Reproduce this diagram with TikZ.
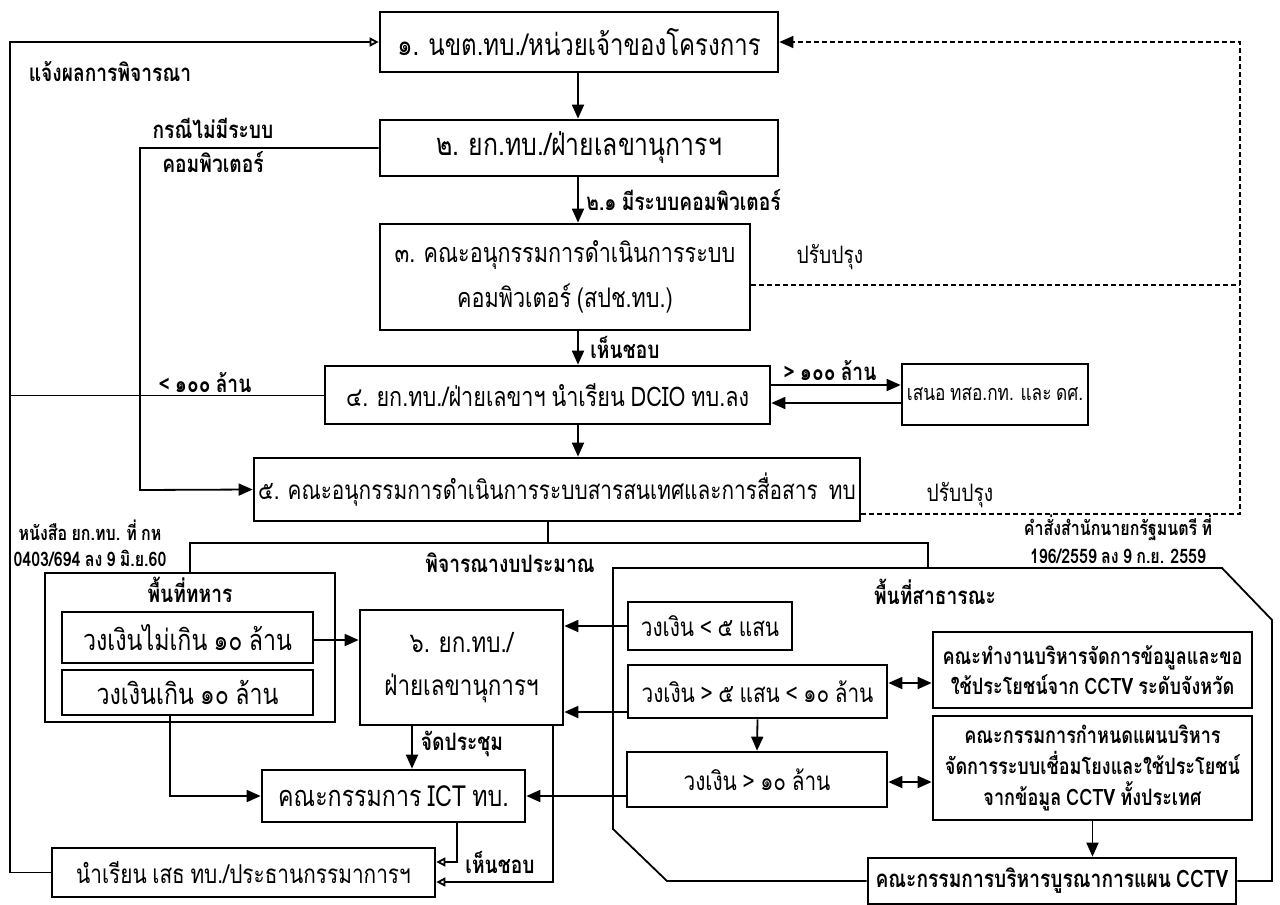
\documentclass[tikz,border=0pt]{standalone}
\usepackage{fontspec}
\setmainfont{Loma}[Script=Thai,FakeStretch=0.8,WordSpace=0.8]
\usetikzlibrary{arrows.meta}
\newcommand\mkbox[7]{\node[#1,minimum width={(#5-#3)*0.5pt},minimum height={(#6-#4)*0.5pt}] (#2) at ({(#3+#5)/2},{(#4+#6)/2}) {#7};}
\newcommand\fs[2]{\fontsize{#1}{#2}\selectfont}
\begin{document}
\begin{tikzpicture}[x=0.5pt,y=-0.5pt,
  bx/.style={draw,line width=1.35pt,inner sep=0pt,align=center},
  area/.style={draw,line width=0.9pt,inner sep=0pt},
  lbl/.style={inner sep=0pt,font=\bfseries\fs{12}{14}},
  slbl/.style={inner sep=0pt,font=\bfseries\fs{10}{12}},
  ln/.style={line width=0.9pt},
  thinln/.style={line width=0.5pt},
  arr/.style={line width=0.9pt,-{Triangle[length=7pt,width=6pt]}},
  darr/.style={line width=0.9pt,{Triangle[length=7pt,width=6pt]}-{Triangle[length=7pt,width=6pt]}},
  oarr/.style={line width=0.9pt,-{Triangle[open,length=4.5pt,width=4.5pt]}},
  dsh/.style={line width=0.8pt,dash pattern=on 2.5pt off 1.5pt}
]
\useasboundingbox (0,0) rectangle (1280,905);
% main column
\mkbox{bx,font=\fs{15}{22}}{b1}{380}{12}{778}{72}{๑. นขต.ทบ./หน่วยเจ้าของโครงการ}
\mkbox{bx,font=\fs{15.5}{22}}{b2}{380}{120}{778}{176}{๒. ยก.ทบ./ฝ่ายเลขานุการฯ}
\mkbox{bx,font=\fs{13.5}{22.5}}{b3}{380}{224}{750}{330}{๓. คณะอนุกรรมการดำเนินการระบบ\\คอมพิวเตอร์ (สปช.ทบ.)}
\mkbox{bx,font=\fs{13.5}{22}}{b4}{325}{366}{770}{424}{๔. ยก.ทบ./ฝ่ายเลขาฯ นำเรียน DCIO ทบ.ลง}
\mkbox{bx,font=\fs{10.8}{22}}{bT}{902}{364}{1088}{425}{เสนอ ทสอ.กท. และ ดศ.}
\mkbox{bx,font=\fs{13}{22}}{b5}{254}{458}{860}{521}{๕. คณะอนุกรรมการดำเนินการระบบสารสนเทศและการสื่อสาร\ \ ทบ}
% military area
\mkbox{area}{mil}{45}{573}{335}{722}{}
\node[lbl] (lmil) at (190,590) {พื้นที่ทหาร};
\mkbox{bx,font=\fs{14.5}{22}}{m1}{62}{612}{313}{663}{วงเงินไม่เกิน ๑๐ ล้าน}
\mkbox{bx,font=\fs{14.5}{22}}{m2}{62}{670}{313}{715}{วงเงินเกิน ๑๐ ล้าน}
\mkbox{bx,font=\fs{14}{21.5}}{b6}{360}{610}{563}{725}{๖. ยก.ทบ./\\ฝ่ายเลขานุการฯ}
\mkbox{bx,font=\fs{14.5}{22}}{ict}{262}{770}{525}{822}{คณะกรรมการ ICT ทบ.}
\mkbox{bx,font=\fs{13}{22}}{b8}{52}{848}{435}{897}{นำเรียน เสธ ทบ./ประธานกรรมาการฯ}
% public area
\mkbox{bx,font=\fs{13}{22}}{p1}{628}{602}{792}{650}{วงเงิน < ๕ แสน}
\mkbox{bx,font=\fs{13}{22}}{p2}{628}{665}{887}{718}{วงเงิน > ๕ แสน < ๑๐ ล้าน}
\mkbox{bx,font=\fs{13}{22}}{p3}{627}{752}{887}{807}{วงเงิน > ๑๐ ล้าน}
\mkbox{bx,font=\bfseries\fs{11.3}{15}}{c1}{933}{632}{1252}{708}{คณะทำงานบริหารจัดการข้อมูลและขอ\\ใช้ประโยชน์จาก CCTV ระดับจังหวัด}
\mkbox{bx,font=\bfseries\fs{11.3}{15.7}}{c2}{933}{716}{1252}{820}{คณะกรรมการกำหนดแผนบริหาร\\จัดการระบบเชื่อมโยงและใช้ประโยชน์\\จากข้อมูล CCTV ทั้งประเทศ}
\mkbox{bx,font=\bfseries\fs{12}{15}}{bI}{868}{858}{1236}{904}{คณะกรรมการบริหารบูรณาการแผน CCTV}
\node[lbl] (lpub) at (935,592) {พื้นที่สาธารณะ};
% labels
\node[lbl] (l1) at (110,72) {แจ้งผลการพิจารณา};
\node[lbl] (l2) at (213,128) {กรณีไม่มีระบบ};
\node[lbl] (l3) at (213,162) {คอมพิวเตอร์};
\node[lbl,anchor=west] (l4) at (586,200) {๒.๑ มีระบบคอมพิวเตอร์};
\node[lbl,font=\fs{12}{14}] (l5) at (830,257) {ปรับปรุง};
\node[lbl,anchor=west] (l6) at (590,347) {เห็นชอบ};
\node[lbl] (l7) at (205,383) {< ๑๐๐ ล้าน};
\node[lbl] (l8) at (830,371) {> ๑๐๐ ล้าน};
\node[lbl,font=\fs{12}{14}] (l9) at (960,495) {ปรับปรุง};
\node[slbl] (l10) at (90,530) {หนังสือ ยก.ทบ. ที่ กห};
\node[slbl] (l11) at (90,558) {0403/694 ลง 9 มิ.ย.60};
\node[lbl] (l12) at (510,563) {พิจารณางบประมาณ};
\node[slbl] (l13) at (1118,528) {คำสั่งสำนักนายกรัฐมนตรี ที่};
\node[slbl] (l14) at (1118,556) {196/2559 ลง 9 ก.ย. 2559};
\node[lbl] (l15) at (462,744) {จัดประชุม};
\node[lbl] (l16) at (500,862) {เห็นชอบ};
% coordinates
\coordinate (cL) at (10,42);
\coordinate (cN) at (140,490);
\coordinate (ax) at (578,0);
\coordinate (cD) at (1240,42);
\coordinate (y385) at (0,385);
\coordinate (y403) at (0,403);
\coordinate (y285) at (0,285);
\coordinate (y514) at (0,514);
\coordinate (y640) at (0,640);
\coordinate (y712) at (0,712);
\coordinate (y683) at (0,683);
\coordinate (y782) at (0,782);
\coordinate (y862) at (0,862);
\coordinate (y882) at (0,882);
\coordinate (x170) at (170,0);
\coordinate (x412) at (412,0);
\coordinate (x457) at (457,0);
\coordinate (x553) at (553,0);
\coordinate (hC) at (548,543);
\coordinate (hL) at (190,543);
\coordinate (hR) at (928,543);
\coordinate (pubtop) at (928,568);
% connectors
\draw[oarr] (b8.west) -| (cL) -- (b1.west);
\draw[thinln] (b4.west) -- (b4.west -| cL);
\draw[arr] (b2.west) -| (cN) -- (b5.west);
\draw[arr] (b1.south -| ax) -- (b2.north -| ax);
\draw[arr] (b2.south -| ax) -- (b3.north -| ax);
\draw[arr] (b3.south -| ax) -- (b4.north -| ax);
\draw[arr] (b4.south -| ax) -- (b5.north -| ax);
\draw[arr] (b4.east |- y385) -- (bT.west |- y385);
\draw[arr] (bT.west |- y403) -- (b4.east |- y403);
\draw[dsh,-{Triangle[length=7pt,width=6pt]}] (b5.east |- y514) -| (cD) -- (b1.east);
\draw[dsh] (b3.east |- y285) -- (cD |- y285);
\draw[ln] (b5.south -| hC) -- (hC);
\draw[ln] (mil.north -| hL) -- (hL) -- (hR) -- (pubtop);
\draw[area] (bI.west) -- (667,881) -- (613,829) -- (613,568) -- (1222,568) -- (1272,620) -- (1272,881) -- (bI.east);
\draw[arr] (m1.east |- y640) -- (b6.west |- y640);
\draw[arr] (m2.south -| x170) |- (ict.west);
\draw[arr] (b6.south -| x412) -- (ict.north -| x412);
\draw[oarr] (b6.south -| x553) |- (b8.east |- y882);
\draw[oarr] (ict.south -| x457) |- (b8.east |- y862);
\draw[arr] (p1.west) -- (p1.west -| b6.east);
\draw[arr] (p2.west |- y712) -- (b6.east |- y712);
\draw[arr] (p3.west |- ict.east) -- (ict.east);
\draw[arr] (p2.south) -- (p3.north);
\draw[darr] (p2.east |- y683) -- (c1.west |- y683);
\draw[darr] (p3.east |- y782) -- (c2.west |- y782);
\draw[arr] (c2.south) -- (c2.south |- bI.north);
\end{tikzpicture}
\end{document}
